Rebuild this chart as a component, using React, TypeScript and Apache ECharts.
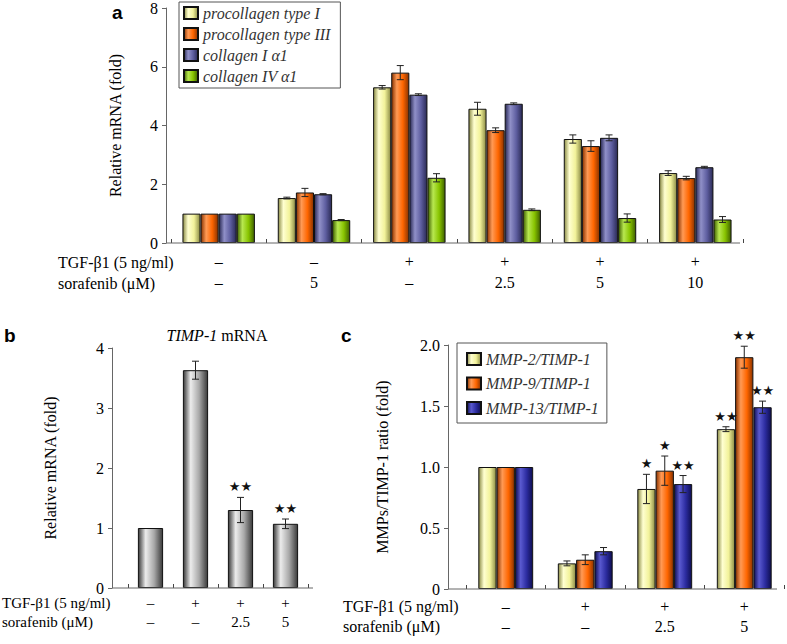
import React, { useEffect, useRef } from 'react';
import * as echarts from 'echarts';

// ---------- Panel a ----------
const aTgf = ['–', '–', '+', '+', '+', '+'];
const aSora = ['–', '5', '–', '2.5', '5', '10'];
const aNames = ['procollagen type I', 'procollagen type III', 'collagen I α1', 'collagen IV α1'];
const aProcol1 = [1.0, 1.53, 5.3, 4.57, 3.54, 2.38];
const aProcol3 = [1.0, 1.72, 5.8, 3.84, 3.3, 2.21];
const aCol1 = [1.0, 1.66, 5.05, 4.74, 3.58, 2.58];
const aCol4 = [1.0, 0.78, 2.22, 1.13, 0.85, 0.8];
const aProcol1Err = [0, 0.03, 0.06, 0.22, 0.14, 0.08];
const aProcol3Err = [0, 0.14, 0.24, 0.08, 0.18, 0.06];
const aCol1Err = [0, 0.02, 0.03, 0.03, 0.1, 0.03];
const aCol4Err = [0, 0.02, 0.14, 0.03, 0.14, 0.1];
const aTicks = [0, 2, 4, 6, 8];

// ---------- Panel b ----------
const bTgf = ['–', '+', '+', '+'];
const bSora = ['–', '–', '2.5', '5'];
const bTimp = [1.0, 3.63, 1.3, 1.07];
const bErr = [0, 0.15, 0.21, 0.08];
const bStars = ['', '', '★★', '★★'];
const bTicks = [0, 1, 2, 3, 4];

// ---------- Panel c ----------
const cTgf = ['–', '+', '+', '+'];
const cSora = ['–', '–', '2.5', '5'];
const cNames = ['MMP-2/TIMP-1', 'MMP-9/TIMP-1', 'MMP-13/TIMP-1'];
const cMmp2 = [1.0, 0.21, 0.82, 1.31];
const cMmp9 = [1.0, 0.24, 0.97, 1.9];
const cMmp13 = [1.0, 0.31, 0.86, 1.49];
const cMmp2Err = [0, 0.02, 0.12, 0.02];
const cMmp9Err = [0, 0.04, 0.12, 0.09];
const cMmp13Err = [0, 0.03, 0.07, 0.05];
const cMmp2Stars = ['', '', '★', '★★'];
const cMmp9Stars = ['', '', '★', '★★'];
const cMmp13Stars = ['', '', '★★', '★★'];
const cTicks = [0, 0.5, 1.0, 1.5, 2.0];

const SERIF = '"Liberation Serif", "Times New Roman", serif';
const SANS = '"Liberation Sans", Arial, sans-serif';

function cyl(dark: string, light: string, base: string) {
  return new echarts.graphic.LinearGradient(0, 0, 1, 0, [
    { offset: 0, color: dark },
    { offset: 0.3, color: light },
    { offset: 0.65, color: base },
    { offset: 1, color: dark },
  ]);
}

const YELLOW = () => cyl('#8c8c45', '#ffffd0', '#f2f29a');
const ORANGE = () => cyl('#8a3300', '#ff9a55', '#ff6600');
const SLATE = () => cyl('#2a2a55', '#9090c8', '#5e5ea0');
const GREEN = () => cyl('#3f6000', '#b8e850', '#88c400');
const NAVY = () => cyl('#0e0e50', '#5a5ad0', '#2c2ca0');
const GREY = () => cyl('#3a3a3a', '#ececec', '#a8a8a8');

type ErrItem = { cat: number; j: number; v: number; e: number; star: string };

function buildErr(vals: number[][], errs: number[][], stars?: string[][]): ErrItem[] {
  const out: ErrItem[] = [];
  vals.forEach((arr, j) => {
    arr.forEach((v, cat) => {
      out.push({ cat, j, v, e: errs[j][cat], star: stars ? stars[j][cat] : '' });
    });
  });
  return out;
}

function errSeries(items: ErrItem[], n: number, gap: number, axisIdx: number) {
  return {
    type: 'custom',
    xAxisIndex: axisIdx,
    yAxisIndex: axisIdx,
    z: 10,
    silent: true,
    encode: { x: 0, y: 2 },
    data: items.map((d) => [d.cat, d.j, d.v, d.e]),
    renderItem: (params: any, api: any) => {
      const d = items[params.dataIndex];
      const band = api.size([1, 0])[0];
      const gw = band * (1 - gap);
      const bw = gw / n;
      const x = api.coord([d.cat, d.v])[0] - gw / 2 + bw * (d.j + 0.5);
      const yHi = api.coord([d.cat, d.v + d.e])[1];
      const yLo = api.coord([d.cat, d.v - d.e])[1];
      const cap = 3.5;
      const children: any[] = [];
      const st = { stroke: '#222', lineWidth: 1 };
      if (d.e > 0) {
        children.push({ type: 'line', shape: { x1: x, y1: yHi, x2: x, y2: yLo }, style: st });
        children.push({ type: 'line', shape: { x1: x - cap, y1: yHi, x2: x + cap, y2: yHi }, style: st });
        children.push({ type: 'line', shape: { x1: x - cap, y1: yLo, x2: x + cap, y2: yLo }, style: st });
      }
      if (d.star) {
        children.push({
          type: 'text',
          style: {
            text: d.star,
            x,
            y: yHi - 4,
            align: 'center',
            verticalAlign: 'bottom',
            fontSize: 13,
            fontFamily: 'DejaVu Sans',
            fill: '#111',
          },
        });
      }
      return { type: 'group', children };
    },
  };
}

function barSeries(name: string, data: number[], color: any, axisIdx: number, gap: string) {
  return {
    name,
    type: 'bar',
    xAxisIndex: axisIdx,
    yAxisIndex: axisIdx,
    data,
    barGap: '0%',
    barCategoryGap: gap,
    itemStyle: { color, borderColor: '#111', borderWidth: 1 },
  };
}

// Layout constants (px)
const A = { axisX: 166, left: 171, width: 572, top: 3, height: 240, lineEnd: 740 };
const B = { axisX: 112, left: 128, width: 180, top: 348, height: 240, lineEnd: 313 };
const C = { axisX: 448, left: 466, width: 318, top: 345, height: 244, lineEnd: 777 };

export default function App() {
  const ref = useRef<HTMLDivElement>(null);
  useEffect(() => {
    if (!ref.current) return;
    const chart = echarts.init(ref.current, null, { renderer: 'svg' });

    const gapA = 0.24, gapB = 0.44, gapC = 0.31;
    const aErrItems = buildErr([aProcol1, aProcol3, aCol1, aCol4], [aProcol1Err, aProcol3Err, aCol1Err, aCol4Err]);
    const bErrItems = buildErr([bTimp], [bErr], [bStars]);
    const cErrItems = buildErr([cMmp2, cMmp9, cMmp13], [cMmp2Err, cMmp9Err, cMmp13Err], [cMmp2Stars, cMmp9Stars, cMmp13Stars]);

    const axisLineStyle = { color: '#666', width: 1 };
    const labelStyle = { fontFamily: SERIF, fontSize: 16, color: '#000' };

    const mkY = (p: any, idx: number, ticks: number[], name: string, nameGap: number, fmt?: (v: number) => string) => ({
      type: 'value',
      gridIndex: idx,
      min: ticks[0],
      max: ticks[ticks.length - 1],
      interval: ticks[1] - ticks[0],
      offset: p.left - p.axisX,
      splitLine: { show: false },
      axisLine: { show: true, lineStyle: axisLineStyle },
      axisTick: { show: true, length: 4, lineStyle: axisLineStyle },
      axisLabel: { ...labelStyle, margin: 8, formatter: fmt },
      name,
      nameLocation: 'middle',
      nameGap,
      nameTextStyle: { fontFamily: SERIF, fontSize: 16, color: '#000' },
    });

    const mkX = (idx: number, tgf: string[], sora: string[], margin: number, lh: number, size = 16) => ({
      type: 'category',
      gridIndex: idx,
      data: tgf.map((_, i) => String(i)),
      axisLine: { show: false },
      axisTick: { show: true, inside: true, length: 4, lineStyle: { color: '#444' } },
      axisLabel: {
        ...labelStyle,
        fontSize: size,
        margin,
        lineHeight: lh,
        verticalAlign: 'top',
        interval: 0,
        formatter: (_: string, i: number) => `${tgf[i]}\n${sora[i]}`,
      },
    });

    const legendCommon = {
      orient: 'vertical',
      icon: 'rect',
      itemWidth: 14,
      itemHeight: 12,
      borderColor: '#555',
      borderWidth: 1,
      backgroundColor: '#fff',
      selectedMode: false,
      textStyle: { fontFamily: SERIF, fontStyle: 'italic', fontSize: 16, lineHeight: 16, color: '#333' },
    };

    const hLine = (p: any) => ({
      type: 'line',
      shape: { x1: p.axisX, y1: p.top + p.height, x2: p.lineEnd, y2: p.top + p.height },
      style: { stroke: '#666', lineWidth: 1 },
      z: 5,
    });

    const rowText = (text: string, x: number, y: number, size = 16) => ({
      type: 'text',
      style: { text, x, y, verticalAlign: 'middle', fontFamily: SERIF, fontSize: size, fill: '#000' },
    });

    const letter = (text: string, x: number, y: number) => ({
      type: 'text',
      style: { text, x, y, verticalAlign: 'middle', fontFamily: SANS, fontWeight: 'bold', fontSize: 19, fill: '#000' },
    });

    chart.setOption({
      animation: false,
      backgroundColor: '#fff',
      grid: [
        { left: A.left, top: A.top, width: A.width, height: A.height },
        { left: B.left, top: B.top, width: B.width, height: B.height },
        { left: C.left, top: C.top, width: C.width, height: C.height },
      ],
      xAxis: [mkX(0, aTgf, aSora, 8, 21), mkX(1, bTgf, bSora, 5, 19, 15), mkX(2, cTgf, cSora, 7, 20)],
      yAxis: [
        mkY(A, 0, aTicks, 'Relative mRNA (fold)', 43),
        mkY(B, 1, bTicks, 'Relative mRNA (fold)', 54),
        mkY(C, 2, cTicks, 'MMPs/TIMP-1 ratio (fold)', 58, (v: number) => (v === 0 ? '0' : v.toFixed(1))),
      ],
      legend: [
        { ...legendCommon, left: 179, top: 2, itemGap: 5, padding: [3, 10, 4, 4], data: aNames },
        { ...legendCommon, left: 457, top: 343, itemGap: 8.5, padding: [8, 8, 7, 9], data: cNames },
      ],
      series: [
        barSeries(aNames[0], aProcol1, YELLOW(), 0, `${gapA * 100}%`),
        barSeries(aNames[1], aProcol3, ORANGE(), 0, `${gapA * 100}%`),
        barSeries(aNames[2], aCol1, SLATE(), 0, `${gapA * 100}%`),
        barSeries(aNames[3], aCol4, GREEN(), 0, `${gapA * 100}%`),
        errSeries(aErrItems, 4, gapA, 0),
        barSeries('TIMP-1', bTimp, GREY(), 1, `${gapB * 100}%`),
        errSeries(bErrItems, 1, gapB, 1),
        barSeries(cNames[0], cMmp2, YELLOW(), 2, `${gapC * 100}%`),
        barSeries(cNames[1], cMmp9, ORANGE(), 2, `${gapC * 100}%`),
        barSeries(cNames[2], cMmp13, NAVY(), 2, `${gapC * 100}%`),
        errSeries(cErrItems, 3, gapC, 2),
      ],
      graphic: [
        hLine(A),
        hLine(B),
        hLine(C),
        letter('a', 112, 12),
        letter('b', 4, 335),
        letter('c', 341, 335),
        {
          type: 'text',
          style: {
            text: '{i|TIMP-1} mRNA',
            x: 217,
            y: 335,
            align: 'center',
            verticalAlign: 'middle',
            fontFamily: SERIF,
            fontSize: 16,
            fill: '#000',
            rich: { i: { fontFamily: SERIF, fontStyle: 'italic', fontSize: 16, fill: '#000' } },
          },
        },
        rowText('TGF-β1 (5 ng/ml)', 58, 262),
        rowText('sorafenib (μM)', 58, 283),
        rowText('TGF-β1 (5 ng/ml)', 2, 603, 15),
        rowText('sorafenib (μM)', 2, 622, 15),
        rowText('TGF-β1 (5 ng/ml)', 343, 606),
        rowText('sorafenib (μM)', 343, 626),
      ],
    });
    return () => chart.dispose();
  }, []);
  return <div ref={ref} style={{ position: 'absolute', left: 0, top: 0, width: 787, height: 644, background: '#fff' }} />;
}
